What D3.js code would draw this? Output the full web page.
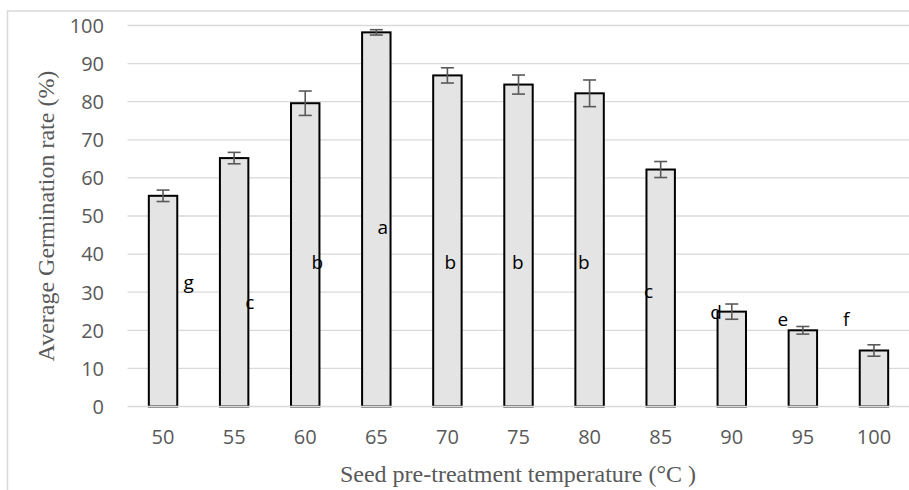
<!DOCTYPE html>
<html>
<head>
<meta charset="utf-8">
<script src="https://cdn.jsdelivr.net/npm/d3@7/dist/d3.min.js"></script>
<style>
  html, body { margin: 0; padding: 0; background: #fff; }
  svg { display: block; }
</style>
</head>
<body>
<svg id="chart" width="909" height="490"></svg>
<script>
// Seed pre-treatment temperatures (°C)
const temperatures = ["50", "55", "60", "65", "70", "75", "80", "85", "90", "95", "100"];
// Mean germination rate (%)
const germination = [55.3, 65.2, 79.6, 98.2, 86.9, 84.5, 82.2, 62.2, 24.9, 20.0, 14.7];
// Error (± %)
const errors = [1.5, 1.5, 3.2, 0.7, 2.0, 2.5, 3.5, 2.1, 2.0, 1.0, 1.5];
// Significance groups
const groups = ["g", "c", "b", "a", "b", "b", "b", "c", "d", "e", "f"];
// Value at which each group letter sits
const groupLabelY = [32.5, 27.3, 37.7, 46.9, 37.7, 37.7, 37.7, 30.0, 24.6, 22.7, 22.7];
// Horizontal offset of each letter from its bar centre, in band units
const groupLabelDx = [0.36, 0.22, 0.17, 0.09, 0.04, -0.01, -0.08, -0.17, -0.22, -0.28, -0.39];
const yTicks = [0, 10, 20, 30, 40, 50, 60, 70, 80, 90, 100];

const svg = d3.select("#chart");
const margin = { left: 127.5, right: 909.5, top: 25.5, bottom: 406.5 };

const x = d3.scaleBand()
  .domain(temperatures)
  .range([margin.left, margin.right])
  .paddingInner(0.6)
  .paddingOuter(0.3);

const y = d3.scaleLinear()
  .domain([0, 100])
  .range([margin.bottom, margin.top]);

// Outer chart frame
svg.append("path")
  .attr("d", "M7.5,490 V11 H909")
  .attr("fill", "none")
  .attr("stroke", "#d9d9d9")
  .attr("stroke-width", 1.5);

// Horizontal gridlines
svg.append("g")
  .selectAll("line")
  .data(yTicks.filter(d => d > 0))
  .join("line")
  .attr("x1", margin.left)
  .attr("x2", 909)
  .attr("y1", d => y(d))
  .attr("y2", d => y(d))
  .attr("stroke", "#d9d9d9")
  .attr("stroke-width", 1.3);

// Y tick labels
const yAxis = d3.axisLeft(y).tickValues(yTicks).tickSize(0).tickPadding(0);
const gy = svg.append("g").attr("transform", "translate(104,0)").call(yAxis);
gy.select(".domain").remove();
gy.selectAll("text")
  .attr("fill", "#595959")
  .attr("font-family", "'Open Sans', sans-serif")
  .attr("font-size", 20)
  .attr("dy", "0.34em");

// Bars
svg.append("g")
  .selectAll("rect")
  .data(temperatures)
  .join("rect")
  .attr("x", d => x(d))
  .attr("width", x.bandwidth())
  .attr("y", (d, i) => y(germination[i]))
  .attr("height", (d, i) => y(0) - y(germination[i]))
  .attr("fill", "#e4e4e4")
  .attr("stroke", "#000")
  .attr("stroke-width", 2);

// X axis line
svg.append("line")
  .attr("x1", margin.left)
  .attr("x2", 909)
  .attr("y1", y(0))
  .attr("y2", y(0))
  .attr("stroke", "#d9d9d9")
  .attr("stroke-width", 1.5);

// Error bars
const capHalf = 6.5;
const eb = svg.append("g")
  .attr("stroke", "#595959")
  .attr("stroke-width", 1.6)
  .attr("fill", "none");
temperatures.forEach((t, i) => {
  const cx = x(t) + x.bandwidth() / 2;
  const hi = y(germination[i] + errors[i]);
  const lo = y(germination[i] - errors[i]);
  eb.append("line").attr("x1", cx).attr("x2", cx).attr("y1", hi).attr("y2", lo);
  eb.append("line").attr("x1", cx - capHalf).attr("x2", cx + capHalf).attr("y1", hi).attr("y2", hi);
  eb.append("line").attr("x1", cx - capHalf).attr("x2", cx + capHalf).attr("y1", lo).attr("y2", lo);
});

// X tick labels
const xAxis = d3.axisBottom(x).tickSize(0).tickPadding(0);
const gx = svg.append("g").attr("transform", "translate(0,437.5)").call(xAxis);
gx.select(".domain").remove();
gx.selectAll("text")
  .attr("fill", "#595959")
  .attr("font-family", "'Open Sans', sans-serif")
  .attr("font-size", 20)
  .attr("dy", "0.34em");

// Group letters
svg.append("g")
  .selectAll("text")
  .data(groups)
  .join("text")
  .attr("x", (d, i) => x(temperatures[i]) + x.bandwidth() / 2 + groupLabelDx[i] * x.step())
  .attr("y", (d, i) => y(groupLabelY[i]))
  .attr("text-anchor", "middle")
  .attr("dy", "0.32em")
  .attr("font-family", "'Open Sans', sans-serif")
  .attr("font-size", 19)
  .attr("fill", "#000")
  .text(d => d);

// Axis titles
svg.append("text")
  .attr("transform", "translate(54,216) rotate(-90)")
  .attr("text-anchor", "middle")
  .attr("font-family", "'Liberation Serif', 'Times New Roman', serif")
  .attr("font-size", 24)
  .attr("fill", "#595959")
  .text("Average Germination rate (%)");

svg.append("text")
  .attr("x", 518)
  .attr("y", 482)
  .attr("text-anchor", "middle")
  .attr("font-family", "'Liberation Serif', 'Times New Roman', serif")
  .attr("font-size", 24)
  .attr("fill", "#595959")
  .text("Seed pre-treatment temperature (°C )");
</script>
</body>
</html>
